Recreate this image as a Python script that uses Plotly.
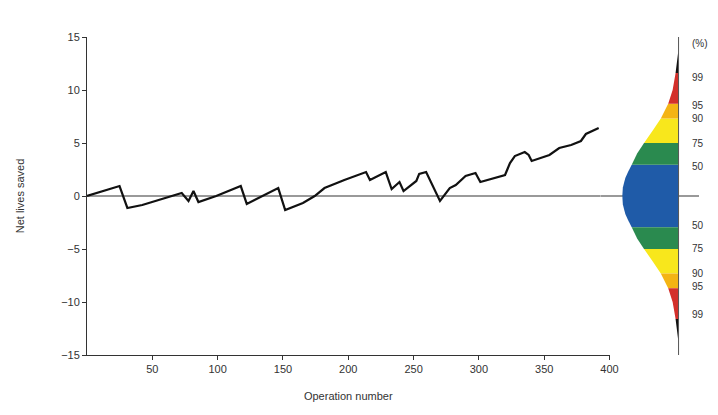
import plotly.graph_objects as go

# ---- data ----
op_number = [0, 24.9, 30.9, 42.3, 72.5, 77.7, 81.5, 85.3, 98.9, 117.7, 122.3, 146.4, 151.7,
             165.3, 174.3, 181.8, 189.4, 197.0, 213.6, 216.6, 228.7, 233.2, 239.2, 242.3,
             252.1, 254.3, 259.6, 270.2, 277.7, 282.3, 289.8, 297.4, 301.1, 320.0, 323.8,
             327.5, 335.1, 338.1, 340.4, 354.0, 361.5, 370.6, 378.1, 381.9, 391.7]
net_lives = [0, 0.94, -1.13, -0.85, 0.28, -0.47, 0.47, -0.57, 0.0, 0.94, -0.75, 0.75, -1.32,
             -0.66, 0.0, 0.75, 1.13, 1.51, 2.26, 1.51, 2.26, 0.66, 1.32, 0.47,
             1.42, 2.08, 2.26, -0.47, 0.75, 1.04, 1.89, 2.17, 1.32, 1.98, 3.11,
             3.77, 4.15, 3.87, 3.30, 3.87, 4.53, 4.81, 5.19, 5.85, 6.42]

x_ticks = [50, 100, 150, 200, 250, 300, 350, 400]
y_ticks = [-15, -10, -5, 0, 5, 10, 15]

# distribution profile (upper half; mirrored below): value, relative width
dist_y = [0, 0.8, 1.7, 2.3, 2.95, 4.0, 5.0, 6.2, 7.3, 8.7, 10.0, 11.6, 13.5]
dist_w = [57, 56.5, 54, 51, 47.5, 42, 35, 26, 18, 10.5, 6, 3, 0.5]

band_edges = [2.95, 5.0, 7.3, 8.7, 11.6, 13.5]
band_colors = ["#2a8a4f", "#f8e71c", "#f4b414", "#d3302b", "#111111"]
centre_color = "#1f5ba8"

pct_labels = ["99", "95", "90", "75", "50"]
pct_label_y = [11.15, 8.55, 7.3, 4.95, 2.8]

# ---- figure ----
fig = go.Figure()

# full signed profile
prof = sorted([(-y, w) for y, w in zip(dist_y, dist_w) if y > 0] +
              [(y, w) for y, w in zip(dist_y, dist_w)])


def band(lo, hi, color):
    pts = [(y, w) for y, w in prof if lo - 1e-9 <= y <= hi + 1e-9]
    xs = [0] + [-w for _, w in pts] + [0]
    ys = [pts[0][0]] + [y for y, _ in pts] + [pts[-1][0]]
    fig.add_trace(go.Scatter(x=xs, y=ys, xaxis="x2", yaxis="y", fill="toself",
                             fillcolor=color, mode="lines", line=dict(width=0, color=color),
                             hoverinfo="skip", showlegend=False))


band(-band_edges[0], band_edges[0], centre_color)
for i, c in enumerate(band_colors):
    band(band_edges[i], band_edges[i + 1], c)
    band(-band_edges[i + 1], -band_edges[i], c)

# vertical line of distribution
fig.add_trace(go.Scatter(x=[0, 0], y=[-15, 15], xaxis="x2", yaxis="y", mode="lines",
                         line=dict(color="#555555", width=1), hoverinfo="skip",
                         showlegend=False))

# main line
fig.add_trace(go.Scatter(x=op_number, y=net_lives, mode="lines",
                         line=dict(color="#111111", width=2.2), showlegend=False))

W, H = 718, 415
L, R, T, B = 79, 0, 29, 68
pw = W - L - R
txt = "#333333"
font = dict(family="Liberation Sans, Arial, sans-serif", size=11, color=txt)

fig.update_layout(
    width=W, height=H,
    margin=dict(l=L, r=R, t=T, b=B),
    paper_bgcolor="white", plot_bgcolor="white",
    font=font,
    xaxis=dict(domain=[0, 530 / pw], range=[0, 400], tickvals=x_ticks,
               showline=True, linecolor="#333333", linewidth=1,
               ticks="outside", ticklen=4, tickcolor="#333333",
               tickfont=dict(color=txt, size=11),
               showgrid=False, zeroline=False,
               title=dict(text="Operation number", standoff=18, font=font)),
    yaxis=dict(range=[-15, 15], tickvals=y_ticks,
               showline=True, linecolor="#333333", linewidth=1,
               ticks="outside", ticklen=4, tickcolor="#333333",
               tickfont=dict(color=txt, size=11),
               showgrid=False, zeroline=True, zerolinecolor="#999999", zerolinewidth=1.5,
               title=dict(text="Net lives saved", standoff=34, font=font)),
    xaxis2=dict(domain=[(600 - L) / pw, (700 - L) / pw], range=[-79, 21], anchor="y",
                visible=False, fixedrange=True),
)

ann = [dict(x=12, y=14.4, xref="x2", yref="y", text="(%)", showarrow=False,
            xanchor="left", font=dict(size=10, color=txt))]
for t, yv in zip(pct_labels, pct_label_y):
    for s in (1, -1):
        ann.append(dict(x=12, y=s * yv, xref="x2", yref="y", text=t, showarrow=False,
                        xanchor="left", font=dict(size=10, color=txt)))
fig.update_layout(annotations=ann)

fig.write_html("out.html")
